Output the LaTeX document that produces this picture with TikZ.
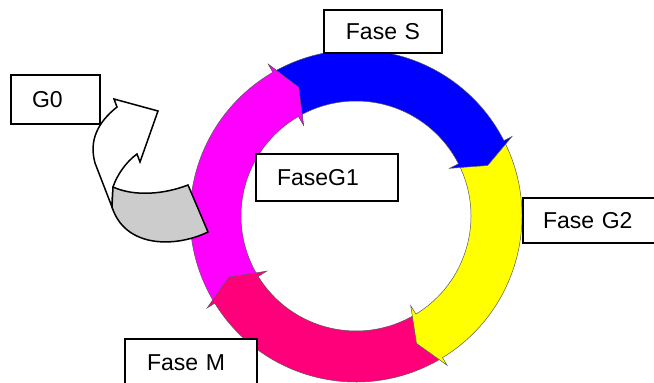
\documentclass[tikz,border=0pt]{standalone}
\usepackage{fontspec}
\setmainfont{Liberation Sans}
\definecolor{cMag}{RGB}{255,0,255}
\definecolor{cBlue}{RGB}{0,0,255}
\definecolor{cYel}{RGB}{255,255,0}
\definecolor{cPink}{RGB}{255,0,122}
\definecolor{cGray}{RGB}{204,204,204}
\newcommand\ringseg[4]{%
  \filldraw[seg, fill=#1] (#2:166pt) arc[start angle=#2, end angle=#3, radius=166pt]
    -- (#3:175pt) -- (#4:141pt) -- (#3:105pt) -- (#3:115pt)
    arc[start angle=#3, end angle=#2, radius=115pt] -- cycle;}
\begin{document}
\begin{tikzpicture}[x=1pt,y=1pt,
  lbl/.style={draw=black, line width=1.6pt, fill=white,
    font=\fontsize{23}{27}\selectfont, text height=16.5pt, text depth=0pt,
    inner ysep=0pt, align=left},
  seg/.style={draw=black!65, line width=0.5pt},
  gzero/.style={draw=black, line width=1.5pt, line join=miter}]
\useasboundingbox (0,0) rectangle (654,383);
% ring
\begin{scope}[shift={(356,167)}]
  \ringseg{cMag}{211.7}{120}{114}
  \ringseg{cPink}{-58.6}{-148.3}{-154.3}
  \ringseg{cYel}{27}{-58.6}{-64.6}
  \ringseg{cBlue}{120}{27}{21}
  \fill[cMag] (121.5:166pt) arc[start angle=121.5, end angle=120, radius=166pt]
    -- (120:175pt) -- (114:141pt) -- (120:105pt) -- (120:115pt)
    arc[start angle=120, end angle=121.5, radius=115pt] -- cycle;
  \draw[seg] (120:166pt) -- (120:175pt) -- (114:141pt) -- (120:105pt) -- (120:115pt);
\end{scope}
% G0 curved arrow
\filldraw[gzero, fill=white] (113,196) .. controls (117,208) and (126,221) .. (137,229)
  -- (140,221) -- (158,272) -- (114,284) -- (117,276)
  .. controls (97,260) and (89,242) .. (95,220) -- (112,176) -- cycle;
\filldraw[gzero, fill=cGray] (113,196) .. controls (135,186) and (165,189) .. (188,198)
  -- (208,151) .. controls (175,135) and (125,135) .. (112,176) -- cycle;
% labels
\node[lbl, minimum width=89pt, minimum height=49pt, inner xsep=21pt, text width=47pt] (g0) at (55.5,283.5) {G0};
\node[lbl, minimum width=118pt, minimum height=43pt, inner xsep=4pt, text width=110pt, align=center] (faseS) at (383,351.5) {Fase S};
\node[lbl, minimum width=142pt, minimum height=47pt, inner xsep=21pt, text width=100pt] (faseG1) at (327,205.5) {FaseG1};
\node[lbl, minimum width=157pt, minimum height=45pt, inner xsep=20pt, text width=117pt] (faseG2) at (601.5,162.5) {Fase G2};
\node[lbl, minimum width=132pt, minimum height=46pt, inner xsep=22pt, text width=88pt] (faseM) at (191,21) {Fase M};
\end{tikzpicture}
\end{document}
